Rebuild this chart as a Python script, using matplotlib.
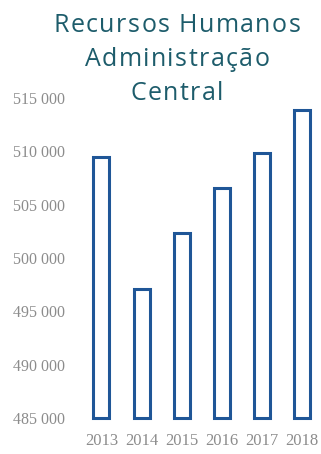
import matplotlib
matplotlib.use("Agg")
import matplotlib.pyplot as plt
from matplotlib.ticker import FuncFormatter
from matplotlib.font_manager import FontProperties

years = ["2013", "2014", "2015", "2016", "2017", "2018"]
staff = [509500, 497050, 502350, 506600, 509800, 513900]
y_ticks = [485000, 490000, 495000, 500000, 505000, 510000, 515000]
title_lines = ["Recursos Humanos", "Administração", "Central"]

W, H = 321, 454
fig = plt.figure(figsize=(W / 100, H / 100), dpi=100)
fig.patch.set_facecolor("white")

# axes placed in pixel coordinates
left, right, bottom, top = 81.5, 321.5, 418, 98
ax = fig.add_axes([left / W, 1 - bottom / H, (right - left) / W, (bottom - top) / H])

base = y_ticks[0]
x = range(len(years))
ax.bar(x, [v - base for v in staff], bottom=base, width=0.4,
       facecolor="white", edgecolor="#1f5697", linewidth=2.2, clip_on=False)

ax.set_xlim(-0.5, len(years) - 0.5)
ax.set_ylim(y_ticks[0], y_ticks[-1])
ax.set_yticks(y_ticks)
ax.yaxis.set_major_formatter(FuncFormatter(lambda v, _: f"{int(v):,}".replace(",", " ")))
ax.set_xticks(list(x))
ax.set_xticklabels(years)

for s in ax.spines.values():
    s.set_visible(False)
ax.tick_params(axis="y", length=0, pad=12, labelsize=11.5, labelcolor="#8c8c8c")
ax.tick_params(axis="x", length=0, pad=11, labelsize=12, labelcolor="#8c8c8c")
for lab in ax.get_xticklabels() + ax.get_yticklabels():
    lab.set_fontfamily("Liberation Serif")

# title with expanded letter spacing, drawn glyph by glyph
fp = FontProperties(family="Open Sans", size=18)
renderer = fig.canvas.get_renderer()
tracking = 1.4  # extra pixels between letters
baselines = [32, 66.5, 100]
cx = 177
for line, yb in zip(title_lines, baselines):
    prefix_w = [renderer.get_text_width_height_descent(line[:i], fp, ismath=False)[0]
                for i in range(len(line) + 1)]
    total = prefix_w[-1] + tracking * (len(line) - 1)
    x0 = cx - total / 2
    for i, ch in enumerate(line):
        if ch == " ":
            continue
        fig.text((x0 + prefix_w[i] + tracking * i) / W, 1 - yb / H, ch,
                 ha="left", va="baseline", fontproperties=fp, color="#1d5c6b")

fig.savefig("out.png", dpi=100)
